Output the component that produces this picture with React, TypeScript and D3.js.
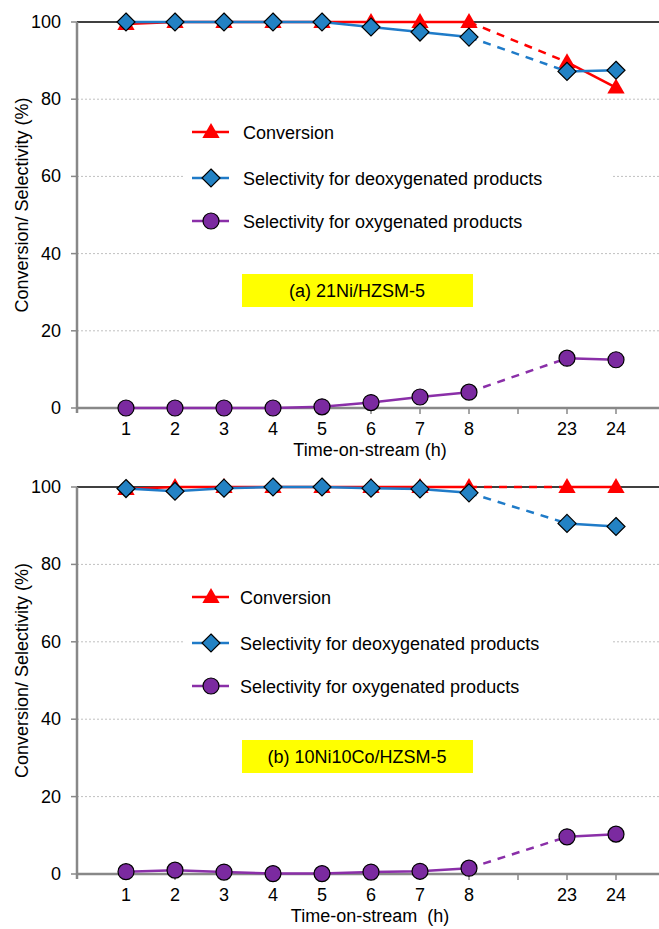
import React from 'react';
import {scaleLinear, line, symbol, symbolTriangle} from 'd3';

// x categories, 23 and 24 come after an empty slot
const hours = ['1', '2', '3', '4', '5', '6', '7', '8', '23', '24'];
const slots = [1, 2, 3, 4, 5, 6, 7, 8, 10, 11];
const yTicks = [0, 20, 40, 60, 80, 100];

// (a) 21Ni/HZSM-5
const convA = [99.5, 100, 100, 100, 100, 100, 100, 100, 89.6, 83];
const deoxA = [100, 100, 100, 100, 100, 98.7, 97.4, 96.1, 87.2, 87.5];
const oxyA = [0, 0, 0, 0, 0.3, 1.4, 2.85, 4.1, 12.9, 12.5];

// (b) 10Ni10Co/HZSM-5
const convB = [99.5, 100, 100, 100, 100, 100, 100, 100, 100, 100];
const deoxB = [99.6, 98.9, 99.7, 100, 100, 99.7, 99.5, 98.5, 90.6, 89.8];
const oxyB = [0.6, 1.0, 0.5, 0.1, 0.1, 0.5, 0.7, 1.5, 9.6, 10.3];

const legendNames = [
    'Conversion',
    'Selectivity for deoxygenated products',
    'Selectivity for oxygenated products',
];

const RED = '#ff0000';
const BLUE = '#1f7bc8';
const BLUE_FILL = '#2382c4';
const PURPLE = '#8a2fa8';
const PURPLE_FILL = '#7b2aa0';

const font = '"Liberation Sans", Arial, sans-serif';

const x = scaleLinear().domain([0, 12]).range([77, 665]);

const tri = symbol().type(symbolTriangle).size(130)();

const Marker = ({kind, cx, cy}: {kind: string, cx: number, cy: number}) => {
    if (kind === 'tri') {
        return <path d={tri} transform={`translate(${cx},${cy + 1})`} fill={RED} />;
    }
    if (kind === 'dia') {
        const r = 9;
        return (
            <path
                d={`M${cx},${cy - r}L${cx + r},${cy}L${cx},${cy + r}L${cx - r},${cy}Z`}
                fill={BLUE_FILL}
                stroke="#000"
                strokeWidth={1.2}
            />
        );
    }
    return <circle cx={cx} cy={cy} r={8} fill={PURPLE_FILL} stroke="#000" strokeWidth={1.2} />;
};

const Panel = ({top, bottom, conv, deox, oxy, label, xTitle, legendY, legendTextX, boxY}: any) => {
    const y = scaleLinear().domain([0, 100]).range([bottom, top]);
    const series = [
        {values: conv, color: RED, kind: 'tri'},
        {values: deox, color: BLUE, kind: 'dia'},
        {values: oxy, color: PURPLE, kind: 'circ'},
    ];
    const pts = (vals: number[]) => vals.map((v, i) => [x(slots[i]), y(v)] as [number, number]);
    const lineGen = line();

    return (
        <g fontFamily={font}>
            {/* gridlines */}
            {yTicks.filter(t => t > 0 && t < 100).map(t => (
                <line key={t} x1={x(0)} x2={659} y1={y(t)} y2={y(t)}
                      stroke="#c0c0c0" strokeWidth={1} strokeDasharray="2,2" />
            ))}
            <line x1={x(0)} x2={659} y1={y(100)} y2={y(100)} stroke="#000" strokeWidth={1.5} />

            {/* legend backdrop */}
            <rect x={183} y={legendY[0] - 22} width={430} height={legendY[2] - legendY[0] + 42} fill="#fff" />

            {/* axes */}
            <line x1={x(0)} x2={x(0)} y1={y(100)} y2={y(0) + 5} stroke="#888" strokeWidth={2.5} />
            <line x1={x(0)} x2={659} y1={y(0)} y2={y(0)} stroke="#888" strokeWidth={2.5} />
            {yTicks.map(t => (
                <g key={t}>
                    <line x1={x(0) - 6} x2={x(0)} y1={y(t)} y2={y(t)} stroke="#888" strokeWidth={1.5} />
                    <text x={61} y={y(t) + 6} textAnchor="end" fontSize={18}>{t}</text>
                </g>
            ))}
            {[1, 2, 3, 4, 5, 6, 7, 8, 9, 10, 11].map(i => (
                <line key={i} x1={x(i)} x2={x(i)} y1={y(0)} y2={y(0) + 6} stroke="#888" strokeWidth={1.5} />
            ))}
            {hours.map((h, i) => (
                <text key={h} x={x(slots[i])} y={y(0) + 27} textAnchor="middle" fontSize={18}>{h}</text>
            ))}
            <text x={370} y={y(0) + 48} textAnchor="middle" fontSize={18} style={{whiteSpace: 'pre'}}>{xTitle}</text>
            <text transform={`translate(28,${(top + bottom) / 2 - 10}) rotate(-90)`} textAnchor="middle" fontSize={18}>
                Conversion/ Selectivity (%)
            </text>

            {/* series */}
            {series.map((s, si) => {
                const p = pts(s.values);
                return (
                    <g key={si}>
                        <path d={lineGen(p.slice(0, 8))!} fill="none" stroke={s.color} strokeWidth={2.5} />
                        <path d={lineGen(p.slice(7, 9))!} fill="none" stroke={s.color} strokeWidth={2.5}
                              strokeDasharray="8,7" />
                        <path d={lineGen(p.slice(8))!} fill="none" stroke={s.color} strokeWidth={2.5} />
                        {p.map((q, i) => <Marker key={i} kind={s.kind} cx={q[0]} cy={q[1]} />)}
                    </g>
                );
            })}

            {/* legend */}
            {series.map((s, si) => (
                <g key={si}>
                    <line x1={192} x2={229} y1={legendY[si]} y2={legendY[si]} stroke={s.color} strokeWidth={2.5} />
                    <Marker kind={s.kind} cx={211} cy={legendY[si]} />
                    <text x={legendTextX} y={legendY[si] + 6.5} fontSize={18}>{legendNames[si]}</text>
                </g>
            ))}

            {/* label box */}
            <rect x={242} y={boxY} width={231} height={33} fill="#ffff00" />
            <text x={357} y={boxY + 23} textAnchor="middle" fontSize={18}>{label}</text>
        </g>
    );
};

export default function App() {
    return (
        <svg width={659} height={929} style={{position: 'absolute', left: 0, top: 0, background: '#fff'}}>
            <rect width={659} height={929} fill="#fff" />
            <Panel top={22} bottom={408} conv={convA} deox={deoxA} oxy={oxyA}
                   label="(a) 21Ni/HZSM-5" xTitle="Time-on-stream (h)"
                   legendY={[132, 178, 221]} legendTextX={243} boxY={274} />
            <Panel top={487} bottom={874} conv={convB} deox={deoxB} oxy={oxyB}
                   label="(b) 10Ni10Co/HZSM-5" xTitle="Time-on-stream  (h)"
                   legendY={[597, 643, 686]} legendTextX={240} boxY={740} />
        </svg>
    );
}
